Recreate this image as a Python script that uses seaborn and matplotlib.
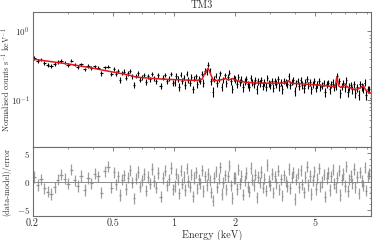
import numpy as np
import pandas as pd
import matplotlib
matplotlib.use("Agg")
import matplotlib.pyplot as plt
import seaborn as sns
from matplotlib.ticker import FixedLocator, NullFormatter, FixedFormatter

# ---------------- data ----------------
title = "TM3"

energy_a = [0.204, 0.212, 0.220, 0.229, 0.238, 0.247, 0.257, 0.267, 0.277, 0.288,
            0.299, 0.311, 0.323, 0.335, 0.348, 0.362, 0.376, 0.390, 0.406, 0.421,
            0.438, 0.455, 0.472, 0.491]
flux_a = [0.411, 0.371, 0.387, 0.345, 0.326, 0.313, 0.334, 0.356, 0.370, 0.350,
          0.327, 0.372, 0.328, 0.304, 0.332, 0.279, 0.312, 0.290, 0.311, 0.297,
          0.243, 0.299, 0.306, 0.242]
err_a = [0.024, 0.023, 0.023, 0.022, 0.022, 0.022, 0.021, 0.021, 0.021, 0.020,
         0.020, 0.020, 0.019, 0.019, 0.019, 0.018, 0.018, 0.018, 0.017, 0.017,
         0.017, 0.016, 0.016, 0.016]
resid_a = [0.8, -0.6, 0.4, -1.2, -1.8, -2.2, -1.0, 0.3, 1.2, 0.5,
           -0.4, 2.1, 0.2, -0.8, 1.0, -1.5, 0.6, -0.3, 1.4, 0.9,
           -2.0, 1.8, 2.6, -1.1]

energy_b = [0.506, 0.518, 0.530, 0.542, 0.555, 0.568, 0.581, 0.595, 0.609, 0.623,
            0.637, 0.652, 0.667, 0.683, 0.699, 0.715, 0.732, 0.749, 0.766, 0.784,
            0.802, 0.821, 0.840, 0.860, 0.880, 0.900, 0.921, 0.943, 0.965, 0.988]
flux_b = [0.287, 0.241, 0.266, 0.198, 0.247, 0.259, 0.211, 0.244, 0.264, 0.220,
          0.166, 0.224, 0.243, 0.198, 0.215, 0.233, 0.183, 0.221, 0.200, 0.242,
          0.207, 0.186, 0.227, 0.158, 0.211, 0.230, 0.189, 0.205, 0.237, 0.176]
err_b = [0.020, 0.020, 0.020, 0.020, 0.019, 0.019, 0.019, 0.018, 0.018, 0.018,
         0.017, 0.017, 0.017, 0.017, 0.017, 0.017, 0.017, 0.017, 0.017, 0.016,
         0.016, 0.016, 0.016, 0.016, 0.016, 0.016, 0.016, 0.016, 0.016, 0.016]
resid_b = [1.6, -0.5, 0.9, -2.4, 0.3, 1.1, -1.3, 0.7, 2.0, -0.2,
           -3.0, 0.5, 1.7, -0.9, 0.2, 1.3, -1.6, 0.8, -0.4, 2.2,
           0.1, -1.1, 1.5, -2.7, 0.6, 1.9, -0.7, 0.4, 2.4, -1.4]

energy_c = [1.009, 1.026, 1.044, 1.062, 1.081, 1.100, 1.119, 1.139, 1.159, 1.179,
            1.200, 1.221, 1.242, 1.264, 1.286, 1.308, 1.331, 1.354, 1.378, 1.402,
            1.427, 1.452, 1.477, 1.503, 1.529, 1.556, 1.583, 1.611, 1.639, 1.668,
            1.697, 1.727, 1.757, 1.787, 1.819, 1.850, 1.883, 1.916, 1.949, 1.983]
flux_c = [0.182, 0.225, 0.203, 0.156, 0.233, 0.188, 0.212, 0.166, 0.240, 0.197,
          0.177, 0.217, 0.143, 0.205, 0.223, 0.169, 0.201, 0.189, 0.240, 0.178,
          0.267, 0.256, 0.327, 0.270, 0.186, 0.132, 0.203, 0.225, 0.174, 0.205,
          0.246, 0.156, 0.199, 0.228, 0.174, 0.215, 0.251, 0.186, 0.145, 0.210]
err_c = [0.020, 0.020, 0.020, 0.020, 0.020, 0.020, 0.020, 0.020, 0.020, 0.020,
         0.019, 0.019, 0.019, 0.019, 0.019, 0.019, 0.019, 0.020, 0.020, 0.022,
         0.025, 0.027, 0.029, 0.027, 0.023, 0.020, 0.019, 0.019, 0.019, 0.020,
         0.020, 0.020, 0.020, 0.021, 0.020, 0.020, 0.020, 0.020, 0.020, 0.020]
resid_c = [-0.8, 1.4, 0.3, -2.1, 1.9, -0.4, 0.8, -1.5, 2.3, 0.1,
           -0.9, 1.2, -2.6, 0.6, 1.6, -1.2, 0.4, -0.3, 2.0, -1.7,
           0.9, -0.6, 1.3, 0.2, -1.9, -3.4, 0.7, 1.8, -1.0, 0.5,
           2.5, -2.2, -0.2, 1.1, -1.4, 0.9, 2.8, -0.7, -2.9, 0.6]

energy_d = [2.018, 2.053, 2.089, 2.125, 2.162, 2.200, 2.239, 2.278, 2.318, 2.358,
            2.399, 2.441, 2.484, 2.527, 2.571, 2.616, 2.662, 2.708, 2.756, 2.804,
            2.853, 2.903, 2.953, 3.005, 3.057, 3.111, 3.165, 3.220, 3.277, 3.334,
            3.392, 3.451, 3.512, 3.573, 3.635, 3.699, 3.763, 3.829, 3.896, 3.964,
            4.033, 4.104, 4.175, 4.248, 4.322, 4.398, 4.475, 4.553, 4.633, 4.713,
            4.796, 4.880, 4.965, 5.052, 5.140, 5.230, 5.321, 5.414, 5.509, 5.605,
            5.703, 5.803, 5.904, 6.007, 6.112, 6.219, 6.328, 6.438, 6.551, 6.665,
            6.782, 6.900, 7.021, 7.144, 7.268, 7.395, 7.525, 7.656, 7.790, 7.926,
            8.065, 8.206, 8.349, 8.495, 8.644, 8.795, 8.948, 9.105, 9.264, 9.426]
flux_d = [0.200, 0.172, 0.215, 0.181, 0.198, 0.153, 0.185, 0.201, 0.169, 0.156,
          0.210, 0.182, 0.170, 0.192, 0.142, 0.186, 0.174, 0.198, 0.162, 0.183,
          0.155, 0.212, 0.176, 0.166, 0.191, 0.150, 0.186, 0.171, 0.199, 0.158,
          0.180, 0.144, 0.190, 0.178, 0.173, 0.220, 0.165, 0.184, 0.194, 0.135,
          0.177, 0.190, 0.159, 0.197, 0.165, 0.148, 0.180, 0.202, 0.162, 0.180,
          0.142, 0.169, 0.188, 0.150, 0.171, 0.191, 0.153, 0.162, 0.176, 0.130,
          0.168, 0.177, 0.142, 0.168, 0.181, 0.153, 0.161, 0.221, 0.188, 0.126,
          0.159, 0.175, 0.154, 0.194, 0.130, 0.156, 0.163, 0.142, 0.168, 0.128,
          0.152, 0.119, 0.170, 0.157, 0.150, 0.179, 0.119, 0.142, 0.143, 0.106]
err_d = [0.023, 0.023, 0.022, 0.022, 0.022, 0.022, 0.022, 0.022, 0.022, 0.021,
         0.021, 0.021, 0.021, 0.021, 0.021, 0.021, 0.021, 0.021, 0.021, 0.021,
         0.021, 0.021, 0.021, 0.021, 0.021, 0.021, 0.021, 0.021, 0.021, 0.021,
         0.021, 0.021, 0.021, 0.021, 0.022, 0.023, 0.022, 0.021, 0.021, 0.021,
         0.021, 0.021, 0.021, 0.021, 0.021, 0.021, 0.020, 0.020, 0.020, 0.020,
         0.020, 0.020, 0.020, 0.020, 0.020, 0.020, 0.020, 0.020, 0.019, 0.019,
         0.019, 0.019, 0.019, 0.019, 0.019, 0.019, 0.021, 0.025, 0.020, 0.018,
         0.019, 0.019, 0.023, 0.022, 0.021, 0.021, 0.021, 0.020, 0.020, 0.020,
         0.020, 0.020, 0.021, 0.022, 0.022, 0.021, 0.019, 0.018, 0.018, 0.018]
resid_d = [0.6, -1.3, 2.1, -0.4, 1.0, -2.3, 0.2, 1.5, -0.9, -1.8,
           2.4, 0.3, -0.6, 1.2, -2.8, 0.8, -0.2, 1.7, -1.1, 0.5,
           -1.6, 2.9, 0.1, -0.7, 1.3, -2.0, 0.9, -0.3, 1.9, -1.4,
           0.4, -2.5, 1.1, 0.0, -0.8, 2.2, -1.2, 0.7, 1.6, -3.1,
           0.3, 1.4, -1.0, 2.0, -0.5, -1.9, 0.8, 2.6, -0.6, 1.0,
           -2.2, 0.2, 1.8, -1.3, 0.5, 2.3, -0.9, -0.1, 1.2, -2.7,
           0.6, 1.5, -1.5, 0.9, 2.1, -0.4, -1.1, 0.7, 1.9, -2.4,
           0.3, 1.3, -0.8, 2.7, -1.7, 0.4, 1.0, -0.3, 2.2, -1.0,
           0.8, -2.1, 1.6, 0.1, -0.7, 2.5, -1.6, 0.9, 1.4, -1.8]

model_energy = [0.2, 0.25, 0.3, 0.35, 0.40, 0.45, 0.50, 0.55, 0.62, 0.65, 0.75, 0.9,
                1.1, 1.3, 1.38, 1.43, 1.48, 1.52, 1.57, 1.7, 1.8, 1.87, 1.95, 2.05,
                2.3, 2.6, 3.0, 3.55, 3.69, 3.8, 4.5, 5.5, 6.1, 6.3, 6.41, 6.55,
                6.7, 7.05, 7.3, 7.5, 7.87, 8.2, 8.67, 8.9, 9.1, 9.5]
model_flux = [0.395, 0.36, 0.335, 0.31, 0.29, 0.27, 0.255, 0.242, 0.225, 0.215, 0.208, 0.200,
              0.196, 0.192, 0.200, 0.250, 0.290, 0.240, 0.190, 0.195, 0.205, 0.195, 0.205, 0.190,
              0.180, 0.176, 0.175, 0.176, 0.190, 0.175, 0.170, 0.162, 0.157, 0.160, 0.215, 0.160,
              0.152, 0.165, 0.152, 0.150, 0.140, 0.145, 0.160, 0.140, 0.132, 0.124]

x_ticks = [0.2, 0.5, 1, 2, 5]
x_tick_labels = ["0.2", "0.5", "1", "2", "5"]
x_minor = [0.3, 0.4, 0.6, 0.7, 0.8, 0.9, 3, 4, 6, 7, 8, 9]
y_ticks = [0.1, 1.0]
y_tick_labels = [r"$10^{-1}$", r"$10^{0}$"]
r_ticks = [-5, 0, 5]
r_tick_labels = [r"$-5$", r"$0$", r"$5$"]

# ---------------- assemble ----------------
energy = np.array(energy_a + energy_b + energy_c + energy_d)
flux = np.array(flux_a + flux_b + flux_c + flux_d)
ferr = np.array(err_a + err_b + err_c + err_d)
resid = np.array(resid_a + resid_b + resid_c + resid_d)
n = min(len(energy), len(flux), len(ferr), len(resid))
energy, flux, ferr, resid = energy[:n], flux[:n], ferr[:n], resid[:n]

# bin edges (geometric midpoints between neighbouring bins)
mid = np.sqrt(energy[1:] * energy[:-1])
edges = np.concatenate([[energy[0] ** 2 / mid[0]], mid, [energy[-1] ** 2 / mid[-1]]])
xlo = energy - edges[:-1]
xhi = edges[1:] - energy

df = pd.DataFrame({"energy": energy, "flux": flux, "err": ferr, "resid": resid})
mdf = pd.DataFrame({"energy": model_energy, "model": model_flux})

# ---------------- style ----------------
sns.set_theme(style="white")
plt.rcParams.update({
    "font.family": "serif",
    "font.serif": ["cmr10", "DejaVu Serif"],
    "mathtext.fontset": "cm",
    "axes.formatter.use_mathtext": True,
    "axes.unicode_minus": False,
    "axes.edgecolor": "#6e6e6e",
    "axes.linewidth": 0.8,
    "xtick.color": "#6e6e6e",
    "ytick.color": "#6e6e6e",
    "xtick.labelcolor": "#333333",
    "ytick.labelcolor": "#333333",
})

fig = plt.figure(figsize=(3.74, 2.40), dpi=100)
left, width = 32.5 / 374, (371 - 32.5) / 374
ax_top = fig.add_axes([left, 93 / 240, width, 135 / 240])
ax_bot = fig.add_axes([left, 24 / 240, width, 69 / 240])

xlim = (0.2, 9.46)

# top panel
ax_top.set_xscale("log")
ax_top.set_yscale("log")
ax_top.errorbar(df["energy"], df["flux"], xerr=[xlo, xhi], yerr=df["err"],
                fmt="none", ecolor="black", elinewidth=0.8, capsize=0)
sns.lineplot(data=mdf, x="energy", y="model", ax=ax_top, color="#e8151b",
             lw=1.1, estimator=None, sort=False)
ax_top.set_xlim(*xlim)
ax_top.set_ylim(0.0205, 1.92)
ax_top.set_xlabel("")
ax_top.set_ylabel(r"Normalised counts s$^{-1}$ keV$^{-1}$", fontsize=5.8,
                  color="#333333")
ax_top.yaxis.set_label_coords(-0.062, 0.5)
ax_top.set_title(title, fontsize=7.5, color="#333333", pad=3)

# bottom panel
ax_bot.set_xscale("log")
ax_bot.axhline(0, color="#8a8a8a", lw=0.7, zorder=1)
ax_bot.errorbar(df["energy"], df["resid"], xerr=[xlo, xhi], yerr=1.0,
                fmt="none", ecolor="#858585", alpha=0.8, elinewidth=0.9,
                capsize=0, zorder=2)
ax_bot.set_xlim(*xlim)
ax_bot.set_ylim(-6.1, 6.1)
ax_bot.set_xlabel("Energy (keV)", fontsize=7.3, color="#333333")
ax_bot.xaxis.set_label_coords(0.53, -0.2)
ax_bot.set_ylabel("(data-model)/error", fontsize=5.9, color="#333333")
ax_bot.yaxis.set_label_coords(-0.062, 0.5)

for ax in (ax_top, ax_bot):
    ax.xaxis.set_major_locator(FixedLocator(x_ticks))
    ax.xaxis.set_minor_locator(FixedLocator(x_minor))
    ax.xaxis.set_minor_formatter(NullFormatter())
    ax.tick_params(which="both", direction="in", top=True, right=True,
                   labelsize=7.3, pad=2)
    ax.tick_params(axis="y", labelsize=6.5, pad=2)
    ax.tick_params(which="major", length=3, width=0.6)
    ax.tick_params(which="minor", length=1.7, width=0.5)
    for s in ax.spines.values():
        s.set_color("#6e6e6e")

ax_top.xaxis.set_major_formatter(NullFormatter())
ax_bot.xaxis.set_major_formatter(FixedFormatter(x_tick_labels))

ax_top.yaxis.set_major_locator(FixedLocator(y_ticks))
ax_top.yaxis.set_major_formatter(FixedFormatter(y_tick_labels))
ax_top.yaxis.set_minor_locator(FixedLocator([0.03, 0.04, 0.05, 0.06, 0.07, 0.08, 0.09,
                                             0.2, 0.3, 0.4, 0.5, 0.6, 0.7, 0.8, 0.9]))
ax_top.yaxis.set_minor_formatter(NullFormatter())

ax_bot.yaxis.set_major_locator(FixedLocator(r_ticks))
ax_bot.yaxis.set_major_formatter(FixedFormatter(r_tick_labels))
ax_bot.yaxis.set_minor_locator(FixedLocator([-4, -3, -2, -1, 1, 2, 3, 4]))
ax_bot.yaxis.set_minor_formatter(NullFormatter())

fig.savefig("out.png", dpi=100)
